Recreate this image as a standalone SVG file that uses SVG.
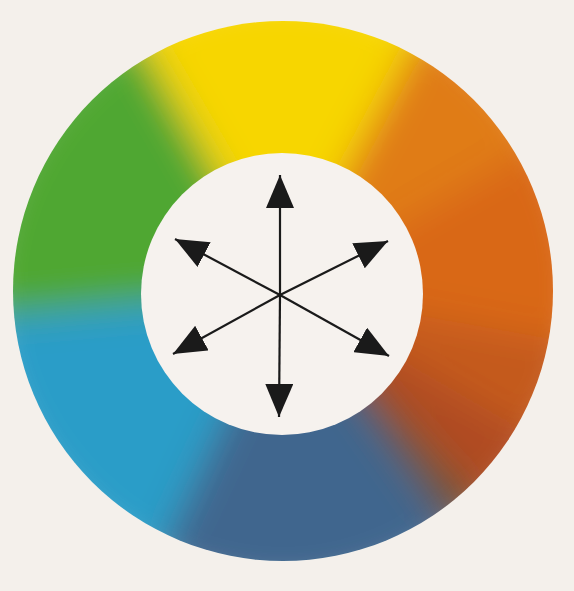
<svg xmlns="http://www.w3.org/2000/svg" width="574" height="591" viewBox="0 0 574 591">
<defs>
<style>
.arrow{stroke:#1a1a1a;stroke-width:2.2;fill:none;marker-end:url(#head)}
</style>
<marker id="head" markerUnits="userSpaceOnUse" markerWidth="34" markerHeight="28" refX="33" refY="14" orient="auto">
<path d="M0,0 L33,14 L0,28 Z" fill="#1a1a1a"/>
</marker>
<clipPath id="outer"><circle cx="283" cy="291" r="270"/></clipPath>
<filter id="soft" x="-20%" y="-20%" width="140%" height="140%"><feGaussianBlur stdDeviation="18"/></filter>
</defs>
<rect width="574" height="591" fill="#f4f0eb"/>
<g id="ring" clip-path="url(#outer)">
<g filter="url(#soft)">
<path d="M283,291 L133,31.2 A300,300 0 0 1 423.8,26.1 Z" fill="#f7d600"/>
<path d="M283,291 L423.8,26.1 A300,300 0 0 1 542.8,141 Z" fill="#e07c12"/>
<path d="M283,291 L542.8,141 A300,300 0 0 1 578.4,343.1 Z" fill="#d96812"/>
<path d="M283,291 L578.4,343.1 A300,300 0 0 1 542.8,441 Z" fill="#c45a1c"/>
<path d="M283,291 L542.8,441 A300,300 0 0 1 487.6,510.4 Z" fill="#b04c22"/>
<path d="M283,291 L487.6,510.4 A300,300 0 0 1 455.1,536.8 Z" fill="#6e5638"/>
<path d="M283,291 L455.1,536.8 A300,300 0 0 1 156.2,562.9 Z" fill="#3f668e"/>
<path d="M283,291 L156.2,562.9 A300,300 0 0 1 -15.9,317.2 Z" fill="#2c9dc8"/>
<path d="M283,291 L-15.9,317.2 A300,300 0 0 1 133,31.2 Z" fill="#4fa733"/>
</g>
</g>
<circle id="centre" cx="282" cy="294" r="141" fill="#f6f2ee"/>
<g id="connectors">
<line class="arrow" x1="280" y1="295" x2="280" y2="175"/>
<line class="arrow" x1="280" y1="295" x2="279" y2="417"/>
<line class="arrow" x1="280" y1="295" x2="175" y2="239"/>
<line class="arrow" x1="280" y1="295" x2="388" y2="241"/>
<line class="arrow" x1="280" y1="295" x2="173" y2="354"/>
<line class="arrow" x1="280" y1="295" x2="389" y2="356"/>
</g>
</svg>
